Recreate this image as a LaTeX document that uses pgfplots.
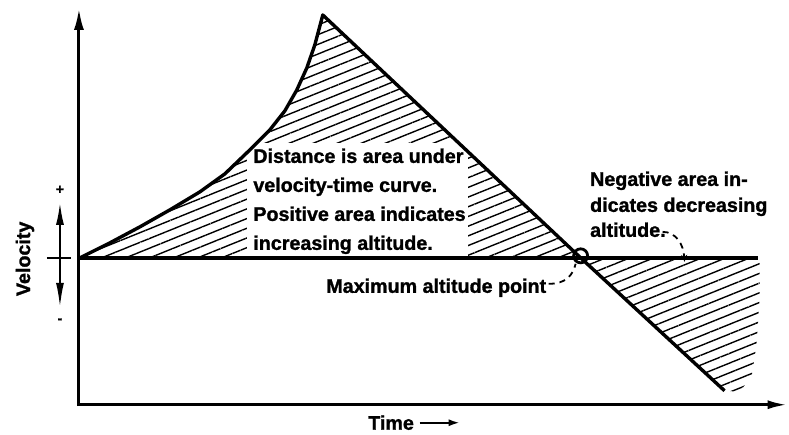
\documentclass[border=0pt]{standalone}
\usepackage{fontspec}
\setmainfont{Liberation Sans}[BoldFeatures={FakeBold=1.3}]
\usepackage{pgfplots}
\pgfplotsset{compat=1.18}
\usetikzlibrary{patterns.meta,arrows.meta}

\newcommand{\lbl}{\fontsize{19.7pt}{29pt}\selectfont\bfseries}

\begin{document}
\begin{tikzpicture}
\begin{axis}[
  width=789pt, height=435pt, scale only axis,
  xmin=0, xmax=789, ymin=0, ymax=435, y dir=reverse,
  axis lines=none, clip=false,
]
\path (axis cs:0,0) rectangle (axis cs:789,435);

% positive area (above zero line)
\addplot[draw=none, pattern={Lines[angle=22,distance=9pt,line width=1.4pt]}]
  coordinates {(80,258) (110,243) (140,227) (170,210) (200,192) (225,174)
               (250,150) (270,130) (285,111) (297,90) (307,68) (315,45)
               (323,15) (581,258)} -- cycle;
% negative area (below zero line)
\addplot[draw=none, pattern={Lines[angle=22,distance=9pt,line width=1.4pt]}]
  coordinates {(581,258) (725,391) (740,392) (752,377) (757,345) (760,300) (760,258)} -- cycle;

% clear space behind the explanation
\fill[white] (axis cs:247,143) rectangle (axis cs:468,259);

% zero-velocity line
\addplot[line width=3.4pt] coordinates {(80,258) (758,258)};

% velocity-time curve
\addplot[line width=3.4pt, line join=round] coordinates {
  (80,258) (110,243) (140,227) (170,210) (200,192) (225,174)
  (250,150) (270,130) (285,111) (297,90) (307,68) (315,45)
  (323,15) (581,258) (725,391)};

% axes
\draw[line width=3pt, -{Latex[length=22pt,width=10pt]}] (axis cs:79,406.5) -- (axis cs:79,8);
\draw[line width=3pt, -{Latex[length=20pt,width=9pt]}] (axis cs:77.5,405) -- (axis cs:788,405);

% sign indicator beside the velocity axis
\node[font=\bfseries\fontsize{14pt}{14pt}\selectfont] at (axis cs:60,190) {+};
\node[font=\bfseries\fontsize{14pt}{14pt}\selectfont] at (axis cs:60,321) {-};
\draw[line width=1.8pt, -{Latex[length=22pt,width=8pt]}] (axis cs:60,258) -- (axis cs:60,203);
\draw[line width=1.8pt, -{Latex[length=24pt,width=8pt]}] (axis cs:60,258) -- (axis cs:60,307);
\draw[line width=1.8pt] (axis cs:47,258) -- (axis cs:71,258);

% axis titles
\node[rotate=90, font=\lbl] at (axis cs:25,259) {Velocity};
\node[anchor=base west, font=\lbl] at (axis cs:365,430) {Time};
\draw[line width=2pt, -{Latex[length=11pt,width=7pt]}] (axis cs:420,423) -- (axis cs:460,423);

% annotations
\node[anchor=base west, font=\lbl] at (axis cs:250,163) {Distance is area under};
\node[anchor=base west, font=\lbl] at (axis cs:250,192) {velocity-time curve.};
\node[anchor=base west, font=\lbl] at (axis cs:250,221) {Positive area indicates};
\node[anchor=base west, font=\lbl] at (axis cs:250,250) {increasing altitude.};

\node[anchor=base west, font=\lbl] at (axis cs:587,186) {Negative area in-};
\node[anchor=base west, font=\lbl] at (axis cs:587,212) {dicates decreasing};
\node[anchor=base west, font=\lbl] at (axis cs:587,237) {altitude.};

\node[anchor=base west, font=\lbl] at (axis cs:323,293) {Maximum altitude point};

% leaders
\draw[line width=1.8pt, dash pattern=on 6pt off 5pt]
  (axis cs:549,284) .. controls (axis cs:566,284) and (axis cs:573,276) .. (axis cs:576,264);
\draw[line width=1.8pt, dash pattern=on 6pt off 5pt, -{Stealth[length=7pt,width=6pt]}]
  (axis cs:663,232) .. controls (axis cs:676,232) and (axis cs:684,244) .. (axis cs:685,262);

% maximum altitude point
\draw[line width=2.8pt] (axis cs:581,256) circle[radius=7pt];
\end{axis}
\end{tikzpicture}
\end{document}
